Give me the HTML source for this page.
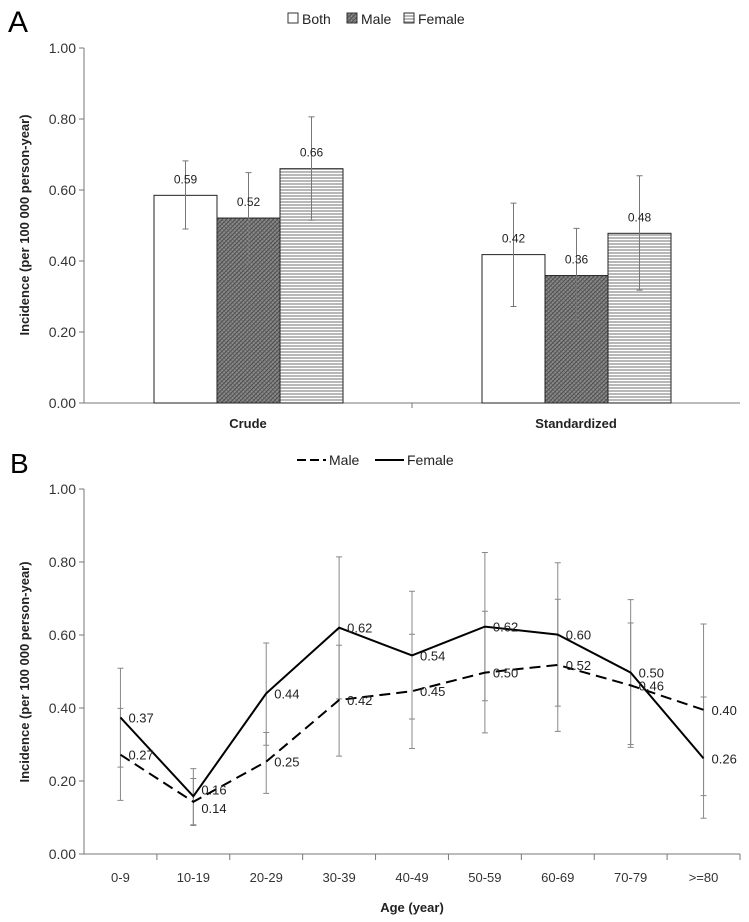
<!DOCTYPE html>
<html><head><meta charset="utf-8"><style>
body{margin:0;background:#fff;}
svg{display:block;font-family:"Liberation Sans",sans-serif;}
</style></head><body>
<svg id="c" width="749" height="922">
<defs>
<pattern id="pm" width="3" height="3" patternUnits="userSpaceOnUse" patternTransform="rotate(45)"><rect width="3" height="3" fill="#8a8a8a"/><line x1="0" y1="0" x2="0" y2="3" stroke="#333" stroke-width="1.4"/><line x1="0" y1="1.5" x2="3" y2="1.5" stroke="#555" stroke-width="0.6"/></pattern>
<pattern id="pf" width="4" height="3" patternUnits="userSpaceOnUse"><rect width="4" height="3" fill="#fff"/><line x1="0" y1="1" x2="4" y2="1" stroke="#888" stroke-width="1.2"/></pattern>
</defs>
<g id="A"></g><g id="B"></g>
</svg>
<script>
const groupsA=["Crude","Standardized"];
const seriesA=["Both","Male","Female"];
const valsBoth=[0.585,0.418];
const valsMale=[0.521,0.359];
const valsFemale=[0.66,0.478];
const lowBoth=[0.49,0.272];const highBoth=[0.682,0.563];
const lowMale=[0.394,0.227];const highMale=[0.649,0.492];
const lowFemale=[0.515,0.318];const highFemale=[0.806,0.64];
const labelsA=["0.59","0.52","0.66","0.42","0.36","0.48"];
const ticksY=[0,0.2,0.4,0.6,0.8,1.0];

const ages=["0-9","10-19","20-29","30-39","40-49","50-59","60-69","70-79",">=80"];
const maleB=[0.272,0.143,0.253,0.422,0.446,0.497,0.518,0.462,0.395];
const femaleB=[0.374,0.158,0.44,0.62,0.544,0.623,0.601,0.497,0.262];
const maleLo=[0.147,0.078,0.166,0.268,0.289,0.332,0.336,0.292,0.16];
const maleHi=[0.399,0.207,0.333,0.572,0.602,0.665,0.698,0.633,0.63];
const femLo=[0.238,0.08,0.298,0.425,0.37,0.42,0.405,0.3,0.098];
const femHi=[0.509,0.234,0.578,0.814,0.72,0.826,0.798,0.697,0.43];
const maleLbl=["0.27","0.14","0.25","0.42","0.45","0.50","0.52","0.46","0.40"];
const femLbl=["0.37","0.16","0.44","0.62","0.54","0.62","0.60","0.50","0.26"];

const NS="http://www.w3.org/2000/svg";
function mk(p,t,a,txt){const e=document.createElementNS(NS,t);for(const k in a)e.setAttribute(k,a[k]);if(txt!=null)e.textContent=txt;p.appendChild(e);return e;}

// Panel A
const A=document.getElementById('A');
const yA=v=>403-v*355;
const x0=84,x1=740;
mk(A,'text',{x:8,y:32,'font-size':30,fill:'#000',},'A');
ticksY.forEach(t=>{const y=yA(t);
 const l=mk(A,'line',{x1:79,x2:84,y1:y,y2:y,stroke:'#777'});
 
 const tx=mk(A,'text',{x:76,y:y+5,'text-anchor':'end','font-size':14,fill:'#333'},t.toFixed(2));
 });
mk(A,'line',{x1:84,x2:84,y1:48,y2:403,stroke:'#777',});
mk(A,'line',{x1:84,x2:740,y1:403,y2:403,stroke:'#777',});
mk(A,'line',{x1:412,x2:412,y1:403,y2:408,stroke:'#777'});
mk(A,'text',{x:0,y:0,transform:'translate(29,225) rotate(-90)','text-anchor':'middle','font-size':13,'font-weight':'bold',fill:'#222',},'Incidence (per 100 000 person-year)');
const fills=['#fff','url(#pm)','url(#pf)'];
const vals=[valsBoth,valsMale,valsFemale],lows=[lowBoth,lowMale,lowFemale],highs=[highBoth,highMale,highFemale];
const bw=63;
groupsA.forEach((g,gi)=>{
 const cx=x0+(x1-x0)*(gi+0.5)/groupsA.length;
 const gl=mk(A,'text',{x:cx,y:428,'text-anchor':'middle','font-size':13,'font-weight':'bold',fill:'#222'},g);
 
 seriesA.forEach((s,si)=>{
  const bx=cx-1.5*bw+si*bw+0.5;const v=vals[si][gi];
  const r=mk(A,'rect',{x:bx,y:yA(v),width:bw,height:yA(0)-yA(v),fill:fills[si],stroke:'#222','stroke-width':1});
  
  const mx=bx+bw/2;
  const e=mk(A,'path',{d:`M${mx},${yA(lows[si][gi])}V${yA(highs[si][gi])}M${mx-3},${yA(lows[si][gi])}h6M${mx-3},${yA(highs[si][gi])}h6`,stroke:'#777',fill:'none'});
  
  const lt=mk(A,'text',{x:mx,y:yA(v)-12,'text-anchor':'middle','font-size':12,fill:'#222'},labelsA[gi*3+si]);
  
 });
});
// legend A
const legA=mk(A,'g',{});
[[288,'Both'],[347,'Male'],[404,'Female']].forEach(([x,n],i)=>{
 const r=mk(legA,'rect',{x:x,y:13,width:10,height:10,fill:fills[i],stroke:'#333'});
 
 const t=mk(legA,'text',{x:x+14,y:24,'font-size':14,fill:'#222'},n);
 
});

// Panel B
const B=document.getElementById('B');
const yB=v=>854-v*365;
const cw=(x1-x0)/ages.length;const xB=i=>x0+cw*(i+0.5);
mk(B,'text',{x:10,y:473,'font-size':28,fill:'#000',},'B');
ticksY.forEach(t=>{const y=yB(t);
 const l=mk(B,'line',{x1:79,x2:84,y1:y,y2:y,stroke:'#777'});
 
 const tx=mk(B,'text',{x:76,y:y+5,'text-anchor':'end','font-size':14,fill:'#333'},t.toFixed(2));
 });
mk(B,'line',{x1:84,x2:84,y1:489,y2:854,stroke:'#777',});
mk(B,'line',{x1:84,x2:740,y1:854,y2:854,stroke:'#777',});
mk(B,'text',{x:0,y:0,transform:'translate(29,672) rotate(-90)','text-anchor':'middle','font-size':13,'font-weight':'bold',fill:'#222',},'Incidence (per 100 000 person-year)');
mk(B,'text',{x:412,y:912,'text-anchor':'middle','font-size':13,'font-weight':'bold',fill:'#222',},'Age (year)');
ages.forEach((a,i)=>{
 const tk=mk(B,'line',{x1:x0+cw*(i+1),x2:x0+cw*(i+1),y1:854,y2:860,stroke:'#777'});
 
 const t=mk(B,'text',{x:xB(i),y:882,'text-anchor':'middle','font-size':13,fill:'#333'},a);
 
 [[maleLo,maleHi],[femLo,femHi]].forEach(([lo,hi])=>{
  const e=mk(B,'path',{d:`M${xB(i)},${yB(lo[i])}V${yB(hi[i])}M${xB(i)-3},${yB(lo[i])}h6M${xB(i)-3},${yB(hi[i])}h6`,stroke:'#888',fill:'none'});
  
 });
});
const pts=arr=>arr.map((v,i)=>xB(i)+','+yB(v)).join(' ');
const lm=mk(B,'polyline',{points:pts(maleB),fill:'none',stroke:'#000','stroke-width':2,'stroke-dasharray':'11,6'});

const lf=mk(B,'polyline',{points:pts(femaleB),fill:'none',stroke:'#000','stroke-width':2});

ages.forEach((a,i)=>{
 const t1=mk(B,'text',{x:xB(i)+8,y:yB(maleB[i])+(i==1?11:5),'font-size':13,fill:'#222'},maleLbl[i]);
 
 const t2=mk(B,'text',{x:xB(i)+8,y:yB(femaleB[i])+(i==1?-2:5),'font-size':13,fill:'#222'},femLbl[i]);
 
});
const legB=mk(B,'g',{});
mk(legB,'line',{x1:297,x2:326,y1:460,y2:460,stroke:'#000','stroke-width':2,'stroke-dasharray':'9,4',});
mk(legB,'text',{x:329,y:465,'font-size':14,fill:'#222',},'Male');
mk(legB,'line',{x1:375,x2:404,y1:460,y2:460,stroke:'#000','stroke-width':2,});
mk(legB,'text',{x:407,y:465,'font-size':14,fill:'#222',},'Female');
</script>
</body></html>
